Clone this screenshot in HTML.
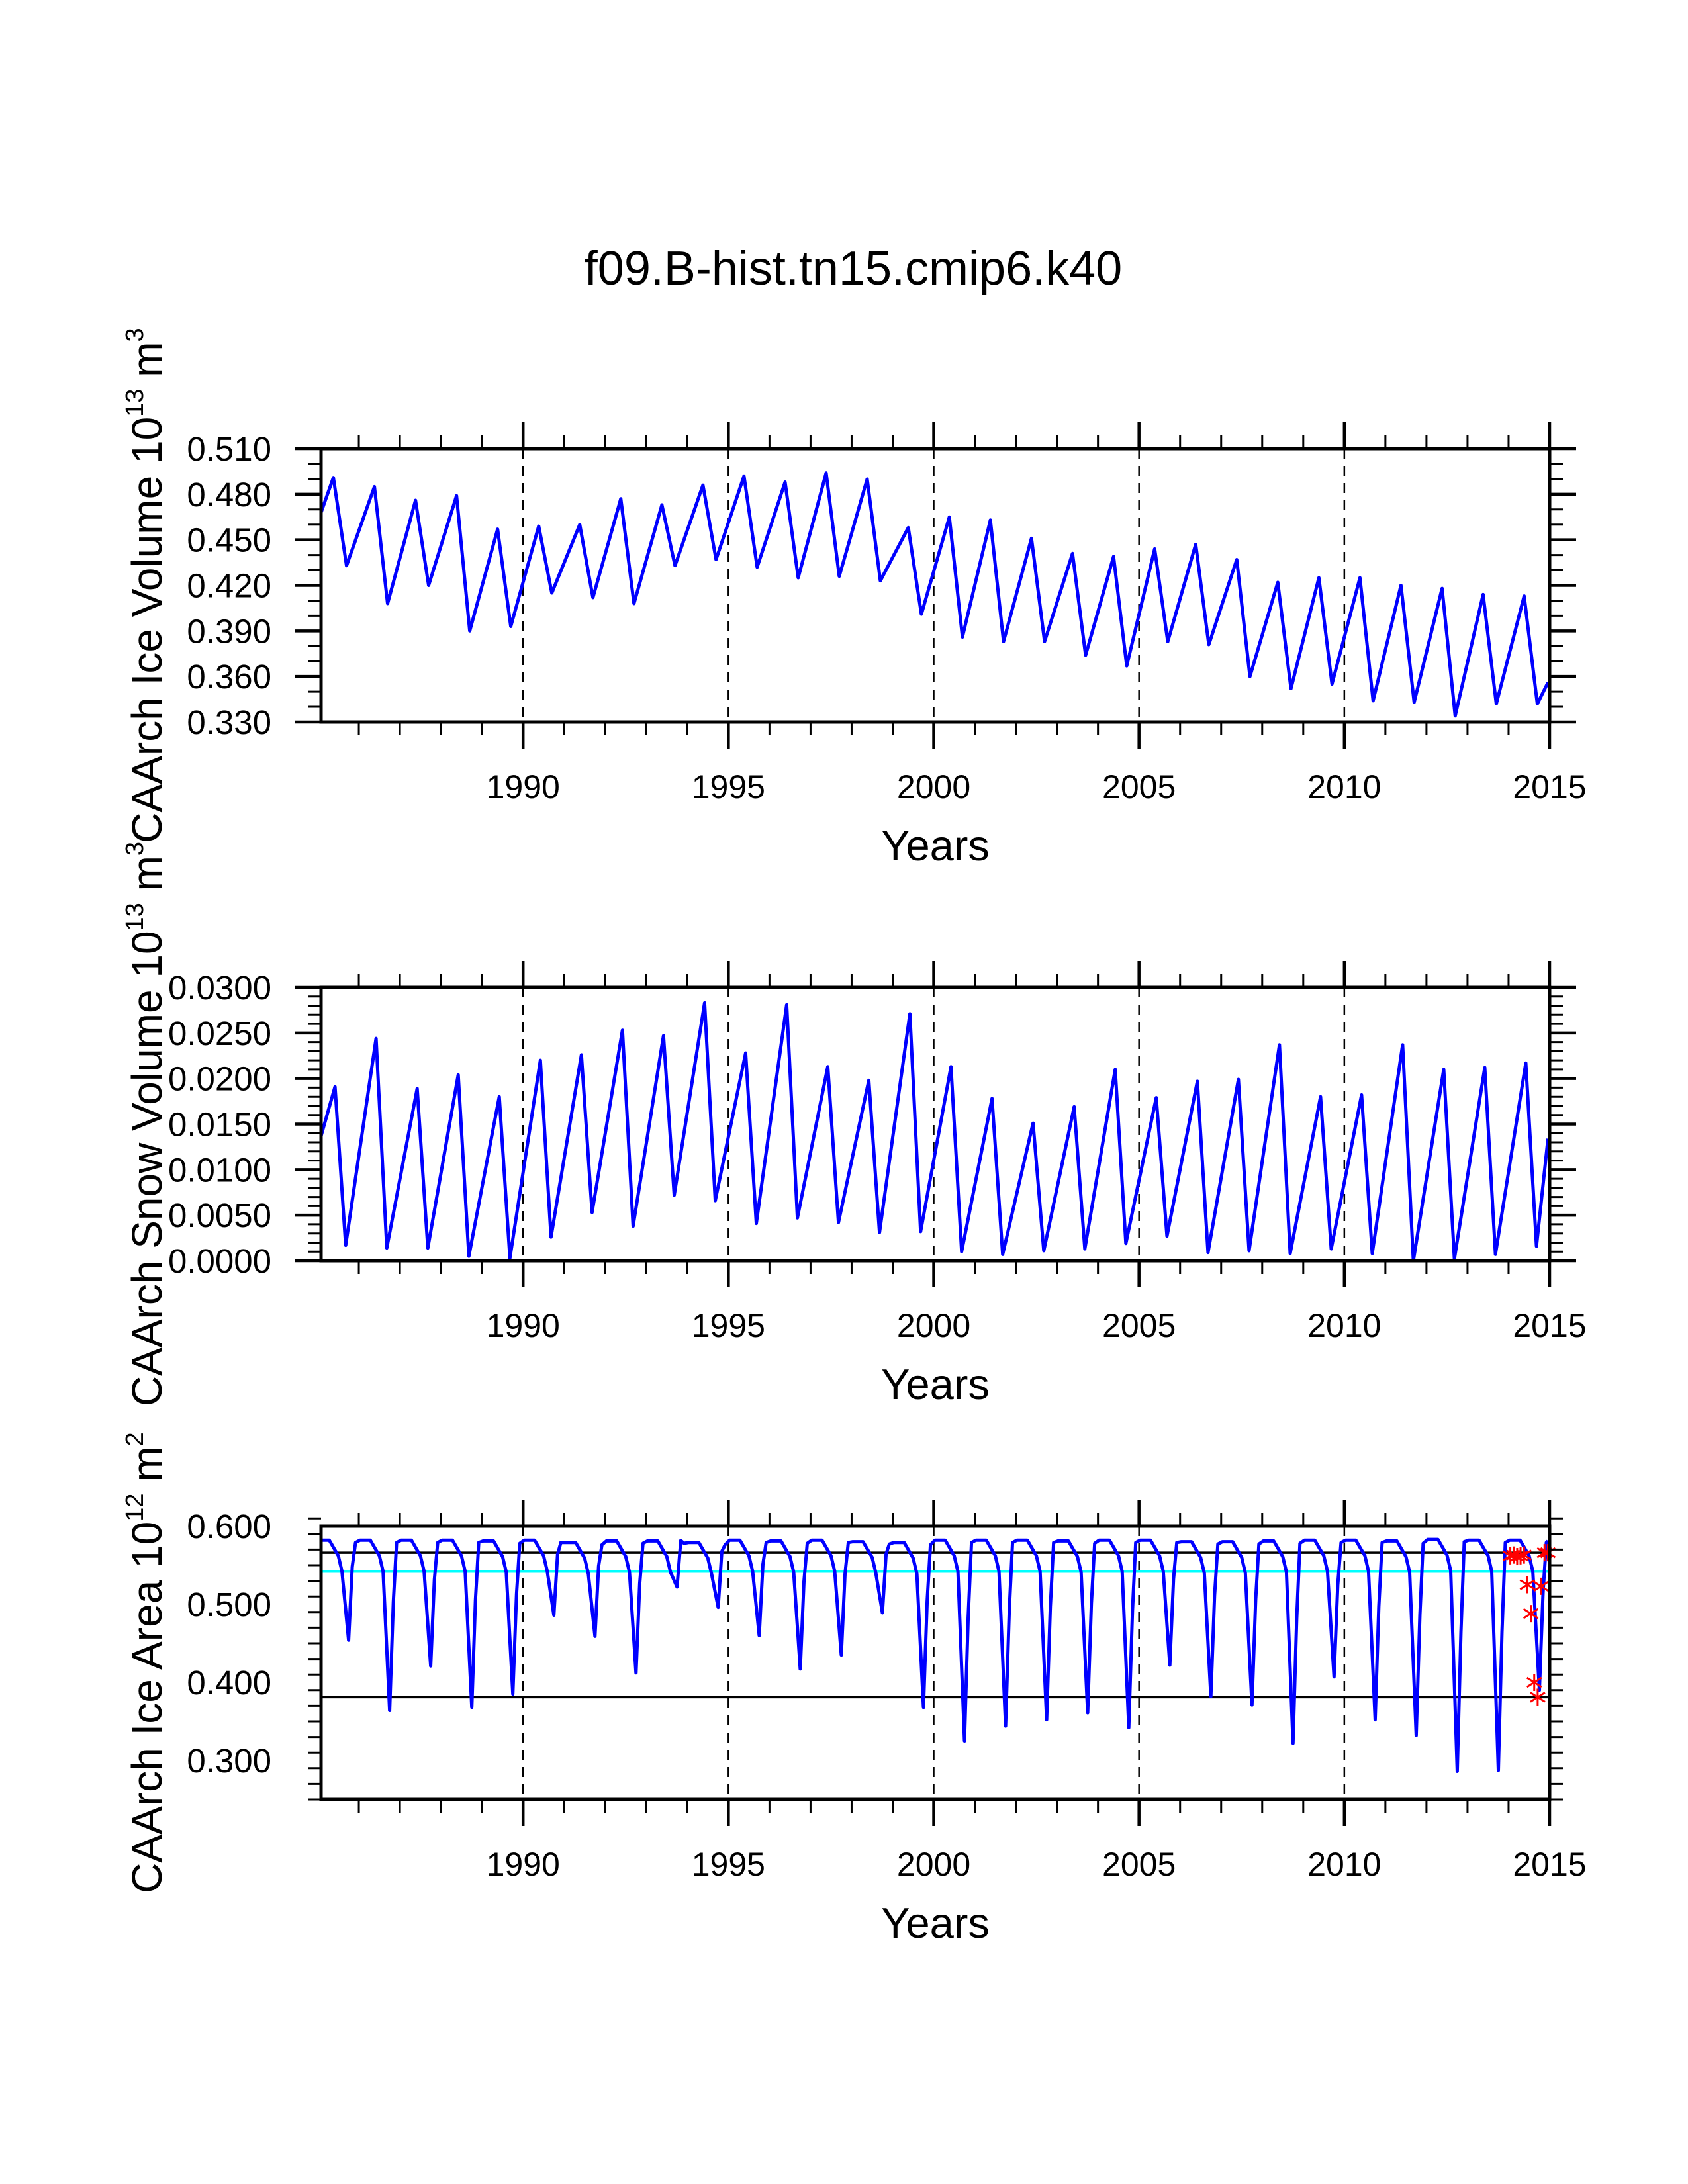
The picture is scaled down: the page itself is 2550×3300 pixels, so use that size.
<!DOCTYPE html>
<html><head><meta charset="utf-8"><style>
html,body{margin:0;padding:0;background:#fff}
svg{display:block}
text{font-family:"Liberation Sans",Arial,sans-serif;fill:#000}
</style></head><body>
<svg id="chart" xmlns="http://www.w3.org/2000/svg" width="2550" height="3300" viewBox="0 0 2550 3300">
<rect width="2550" height="3300" fill="#fff"/>
<text x="1289" y="430" font-size="72" text-anchor="middle">f09.B-hist.tn15.cmip6.k40</text>
<g id="plots"></g>
</svg>
<script>
// ---- data ----
const years = [1985,1986,1987,1988,1989,1990,1991,1992,1993,1994,1995,1996,1997,1998,1999,2000,2001,2002,2003,2004,2005,2006,2007,2008,2009,2010,2011,2012,2013,2014];
const volMax = [0.491,0.485,0.476,0.479,0.457,0.459,0.460,0.477,0.473,0.486,0.492,0.488,0.494,0.490,0.458,0.465,0.463,0.451,0.441,0.439,0.444,0.447,0.437,0.422,0.425,0.425,0.420,0.418,0.414,0.413];
const volMin = [0.433,0.408,0.420,0.390,0.393,0.415,0.412,0.408,0.433,0.437,0.432,0.425,0.426,0.423,0.401,0.386,0.383,0.383,0.374,0.367,0.383,0.381,0.360,0.352,0.355,0.344,0.343,0.334,0.342,0.342];
const volStartEnd = [0.468,0.356];
const snowMax = [0.0191,0.0244,0.0189,0.0204,0.0180,0.0220,0.0226,0.0253,0.0247,0.0283,0.0228,0.0281,0.0213,0.0198,0.0271,0.0213,0.0178,0.0151,0.0169,0.0210,0.0179,0.0197,0.0199,0.0237,0.0180,0.0182,0.0237,0.0210,0.0212,0.0217];
const snowMin = [0.0017,0.0014,0.0014,0.0005,0.0003,0.0026,0.0053,0.0038,0.0072,0.0066,0.0041,0.0047,0.0042,0.0031,0.0032,0.0010,0.0007,0.0011,0.0013,0.0019,0.0027,0.0009,0.0011,0.0008,0.0013,0.0008,0.0000,0.0002,0.0007,0.0016];
const snowStartEnd = [0.0137,0.0134];
const areaMax = [0.582,0.582,0.582,0.582,0.581,0.582,0.579,0.581,0.581,0.579,0.582,0.581,0.582,0.580,0.579,0.582,0.582,0.582,0.581,0.582,0.582,0.580,0.580,0.581,0.582,0.582,0.581,0.583,0.582,0.582];
const areaMin = [0.454,0.364,0.421,0.368,0.385,0.486,0.459,0.412,0.522,0.496,0.460,0.417,0.435,0.489,0.368,0.325,0.344,0.352,0.361,0.342,0.422,0.382,0.371,0.322,0.407,0.352,0.332,0.286,0.287,0.390];
const areaEnd = 0.581;
const obsMonths = [0,1,2,3,4,5,6,7,8,9,10,11];
const obsArea = [0.562,0.563,0.561,0.562,0.563,0.525,0.488,0.400,0.381,0.523,0.566,0.566];
const refLines = [0.566,0.542,0.381];
const xTicks = [1990,1995,2000,2005,2010,2015];
const volTicks = ["0.330","0.360","0.390","0.420","0.450","0.480","0.510"];
const snowTicks = ["0.0000","0.0050","0.0100","0.0150","0.0200","0.0250","0.0300"];
const areaTicks = ["0.300","0.400","0.500","0.600"];

// ---- layout ----
const NS="http://www.w3.org/2000/svg";
const L=485,R=2341,T0=1985.08,T1=2015.0;
const X=t=>L+(t-T0)/(T1-T0)*(R-L);
const root=document.getElementById('plots');
function el(tag,attrs,parent){const e=document.createElementNS(NS,tag);for(const k in attrs)e.setAttribute(k,attrs[k]);(parent||root).appendChild(e);return e;}

function panel(p){
  const g=el('g',{});
  
  
  const top=p.top,bot=p.top+413;
  const Y=v=>bot-(v-p.vmin)/(p.vmax-p.vmin)*(bot-top);
  [1990,1995,2000,2005,2010].forEach(t=>{
    const d=el('line',{x1:X(t),x2:X(t),y1:top,y2:bot,stroke:'#000','stroke-width':2.5,'stroke-dasharray':'15 11'},g);
    
    
  });
  if(p.extra) p.extra(g,Y,top,bot);
  const pts=p.points().map(([t,v])=>X(t).toFixed(1)+','+Y(v).toFixed(1)).join(' ');
  const line=el('polyline',{points:pts,fill:'none',stroke:'#0000ff','stroke-width':5,'stroke-linejoin':'round'},g);
  
  
  if(p.after) p.after(g,Y);
  const fr=el('rect',{x:L,y:top,width:R-L,height:bot-top,fill:'none',stroke:'#000','stroke-width':5},g);
  
  
  for(let yr=1986;yr<=2015;yr++){
    const maj=xTicks.includes(yr),len=maj?40:20,w=maj?4.5:3;
    el('line',{x1:X(yr),x2:X(yr),y1:top,y2:top-len,stroke:'#000','stroke-width':w},g);
    el('line',{x1:X(yr),x2:X(yr),y1:bot,y2:bot+len,stroke:'#000','stroke-width':w},g);
  }
  xTicks.forEach(t=>{
    const tx=el('text',{x:X(t),y:bot+115,'font-size':50,'text-anchor':'middle'},g);
    tx.textContent=t;
    
    
  });
  const yt=el('text',{x:(L+R)/2,y:bot+209,'font-size':65,'text-anchor':'middle'},g);
  yt.textContent='Years';
  
  
  const n=Math.round((p.vmax-p.vmin)/p.minor);
  for(let i=0;i<=n;i++){
    const v=p.vmin+i*p.minor, y=Y(v);
    const maj=p.labels.some(s=>Math.abs(parseFloat(s)-v)<p.minor/10);
    const len=maj?40:20,w=maj?4.5:3;
    el('line',{x1:L,x2:L-len,y1:y,y2:y,stroke:'#000','stroke-width':w},g);
    el('line',{x1:R,x2:R+len,y1:y,y2:y,stroke:'#000','stroke-width':w},g);
  }
  p.labels.forEach(s=>{
    const tx=el('text',{x:410,y:Y(parseFloat(s))+18,'font-size':51,'text-anchor':'end'},g);
    tx.textContent=s;
    
    
  });
  const cy=(top+bot)/2;
  const tt=el('text',{x:0,y:0,'font-size':64,'text-anchor':'middle',transform:`translate(244,${cy}) rotate(-90)`},g);
  
  
  const a=el('tspan',{},tt);a.textContent=p.title+' 10';
  const b=el('tspan',{'font-size':38,dy:-28},tt);b.textContent=p.exp;
  const c=el('tspan',{dy:28},tt);c.textContent=' m';
  const d=el('tspan',{'font-size':38,dy:-28},tt);d.textContent=p.unitExp;
}

panel({name:'ice-volume-panel',top:678,vmin:0.33,vmax:0.51,minor:0.01,labels:volTicks,
  title:'CAArch Ice Volume',exp:'13',unitExp:'3',
  points:()=>{const a=[[T0,volStartEnd[0]]];years.forEach((y,i)=>{a.push([y+0.38,volMax[i]]);a.push([y+0.70,volMin[i]]);});a.push([2014.96,volStartEnd[1]]);return a;}});

panel({name:'snow-volume-panel',top:1492,vmin:0,vmax:0.03,minor:0.001,labels:snowTicks,
  title:'CAArch Snow Volume',exp:'13',unitExp:'3',
  points:()=>{const a=[[T0,snowStartEnd[0]]];years.forEach((y,i)=>{a.push([y+0.42,snowMax[i]]);a.push([y+0.68,snowMin[i]]);});a.push([2014.96,snowStartEnd[1]]);return a;}});

panel({name:'ice-area-panel',top:2306,vmin:0.25,vmax:0.6,minor:0.02,labels:areaTicks,
  title:'CAArch Ice Area',exp:'12',unitExp:'2',
  extra:(g,Y)=>{
    const cols=['#000','#00ffff','#000'];
    refLines.forEach((v,i)=>{
      const ln=el('line',{x1:L,x2:R,y1:Y(v),y2:Y(v),stroke:cols[i],'stroke-width':i==1?4:3.5},g);
      
      
    });
  },
  points:()=>{const a=[];years.forEach((y,i)=>{const m=areaMax[i],n=areaMin[i];
    a.push([Math.max(T0,y+0.03),m]);a.push([y+0.28,m]);a.push([y+0.50,m-0.02]);a.push([y+0.59,m-0.04]);
    a.push([y+0.75,n]);a.push([y+0.84,(m+n)/2+0.03]);a.push([y+0.92,m-0.003]);});
    a.push([2014.96,areaEnd]);return a;},
  after:(g,Y)=>{
    obsMonths.forEach((m,i)=>{
      const cx=X(2014+(m+0.5)/12),cy=Y(obsArea[i]);
      const s=el('g',{stroke:'#ff0000','stroke-width':3},g);
      
      
      el('line',{x1:cx,x2:cx,y1:cy-13,y2:cy+13},s);
      el('line',{x1:cx-11,x2:cx+11,y1:cy-7,y2:cy+7},s);
      el('line',{x1:cx-11,x2:cx+11,y1:cy+7,y2:cy-7},s);
    });
  }});
</script>
</body></html>
